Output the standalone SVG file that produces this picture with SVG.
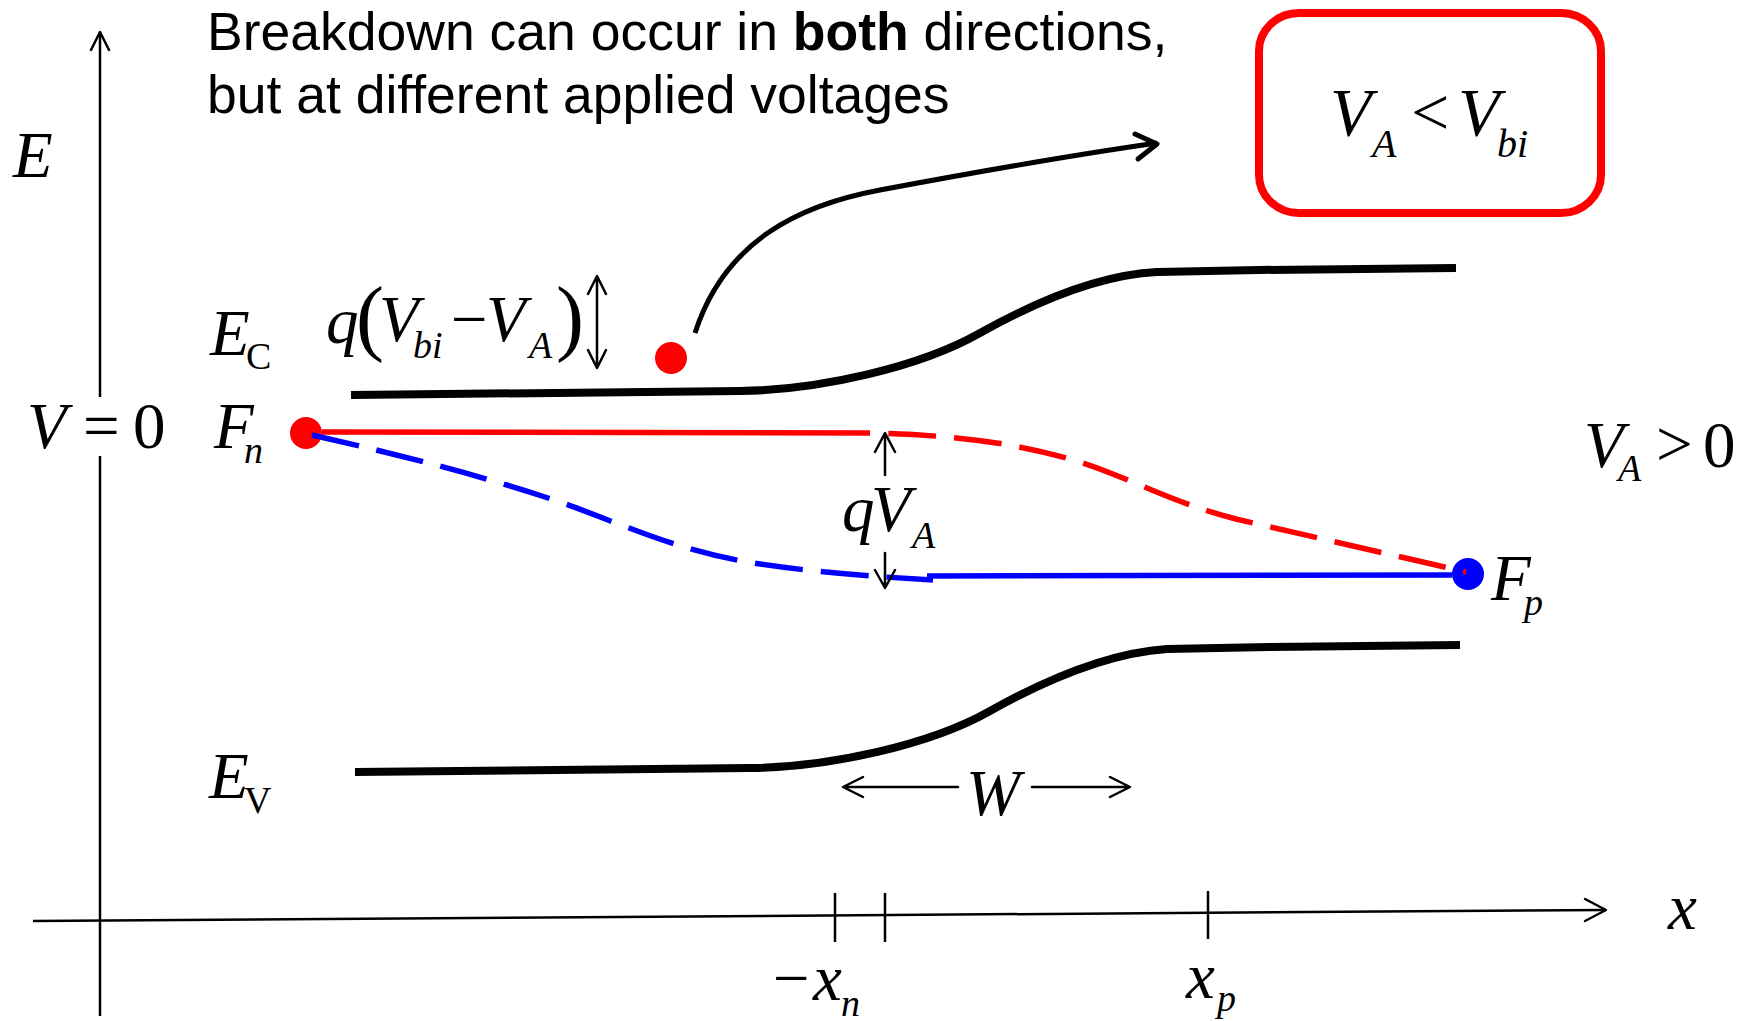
<svg xmlns="http://www.w3.org/2000/svg" width="1749" height="1021" viewBox="0 0 1749 1021">
<style>
.h{font-family:"Liberation Sans",Arial,sans-serif;font-size:53.5px;fill:#000}
.m{font-family:"Liberation Serif","Times New Roman",serif;font-size:65px;fill:#000}
.i{font-style:italic}
.s{font-size:38px}
.ax{stroke:#000;stroke-width:2.5;fill:none}
.band{stroke:#000;stroke-width:8;fill:none}
.red{stroke:#ff0000;stroke-width:5.5;fill:none}
.blue{stroke:#0000ff;stroke-width:5.5;fill:none}
.dash{stroke-dasharray:48 18}
.thin{stroke:#000;stroke-width:2.5;fill:none;stroke-linecap:round;stroke-linejoin:round}
</style>
<rect width="1749" height="1021" fill="#fff"/>

<g id="title">
<text class="h" x="207" y="50">Breakdown can occur in <tspan font-weight="bold">both</tspan> directions,</text>
<text class="h" x="207" y="113">but at different applied voltages</text>
</g>

<g id="condition-box">
<rect x="1259" y="13" width="342" height="200" rx="40" ry="38" fill="#fff" stroke="#ff0000" stroke-width="8"/>
<text class="m" style="font-size:68px"><tspan class="i" x="1330" y="135">V</tspan><tspan class="i" x="1372" y="157" style="font-size:40px">A</tspan><tspan x="1411" y="135">&lt;</tspan><tspan class="i" x="1458" y="135">V</tspan><tspan class="i" x="1497" y="157" style="font-size:40px">bi</tspan></text>
</g>

<g id="dots">
<circle id="dot-fn" cx="306" cy="433" r="16" fill="#ff0000"/>
<circle id="dot-electron" cx="671" cy="358" r="16" fill="#ff0000"/>
<circle id="dot-fp" cx="1468" cy="574" r="16" fill="#0000ff"/>
</g>

<g id="connectors">
<!-- E axis -->
<path class="ax" d="M100,32 V397 M100,456 V1016"/>
<polyline class="thin" points="91,50 100,32 109,50"/>
<!-- x axis -->
<path class="ax" d="M33,921 L1606,910"/>
<polyline class="thin" points="1585,899 1606,910 1585,921"/>
<path class="ax" d="M835,893 V942 M885,893 V942 M1208,891 V939"/>
<!-- bands -->
<path id="ec" class="band" d="M351,395 L740,391 C820,390 920,367 980,333 C1030,305 1097,275 1157,272 L1259,270 L1456,268"/>
<path id="ev" class="band" d="M355,772 L750,768 C830,767 930,745 990,711 C1040,683 1107,653 1167,649 L1269,647 L1460,645"/>
<!-- quasi Fermi levels -->
<path class="red" d="M322,432 L870,433"/>
<path class="red dash" stroke-dashoffset="48" d="M870,433 C960,435 1020,444 1080,462 C1130,478 1170,502 1236,519 L1466,572"/>
<path class="blue dash" d="M312,435 C400,455 480,475 560,502 C630,527 680,552 760,564 C820,573 880,577 933,580"/>
<path class="blue" d="M927,576 L1452,575"/>
<!-- breakdown arrow -->
<path d="M695,333 C725,240 800,205 880,190 C960,175 1080,154 1157,143" stroke="#000" stroke-width="5" fill="none"/>
<polyline points="1135,134 1157,144 1138,159" stroke="#000" stroke-width="5" fill="none" stroke-linecap="round" stroke-linejoin="round"/>
<!-- q(Vbi-VA) double arrow -->
<path class="thin" d="M597,277 V367 M588,294 L597,276 L606,294 M588,350 L597,368 L606,350"/>
<!-- qVA arrows -->
<path class="thin" d="M885,475 V434 M875,452 L885,433 L895,452 M885,553 V587 M875,570 L885,588 L895,570"/>
<!-- W arrows -->
<path class="thin" d="M958,787 H844 M863,777 L843,787 L863,797 M1032,787 H1129 M1110,777 L1130,787 L1110,797"/>
</g>

<g id="labels">
<text id="lbl-E" class="m i" x="13" y="177">E</text>
<text id="lbl-EC" class="m"><tspan class="i" x="210" y="355">E</tspan><tspan class="s" x="246" y="369">C</tspan></text>
<text id="lbl-qVbiVA" class="m"><tspan class="i" x="326" y="343">q</tspan><tspan x="356" y="345" style="font-size:84px">(</tspan><tspan class="i" x="379" y="341">V</tspan><tspan class="i s" x="413" y="358">bi</tspan><tspan x="451" y="341">−</tspan><tspan class="i" x="486" y="341">V</tspan><tspan class="i s" x="529" y="358">A</tspan><tspan x="556" y="345" style="font-size:84px">)</tspan></text>
<text id="lbl-V0" class="m"><tspan class="i" x="27" y="448">V</tspan><tspan x="83" y="448">=</tspan><tspan x="133" y="448">0</tspan></text>
<text id="lbl-Fn" class="m"><tspan class="i" x="214" y="448">F</tspan><tspan class="i s" x="244" y="463">n</tspan></text>
<text id="lbl-EV" class="m"><tspan class="i" x="209" y="798">E</tspan><tspan class="s" x="244" y="813">V</tspan></text>
<text id="lbl-qVA" class="m"><tspan class="i" x="842" y="531">q</tspan><tspan class="i" x="871" y="531">V</tspan><tspan class="i s" x="912" y="548">A</tspan></text>
<text id="lbl-VA0" class="m"><tspan class="i" x="1584" y="467">V</tspan><tspan class="i s" x="1618" y="481">A</tspan><tspan x="1656" y="466">&gt;</tspan><tspan x="1703" y="467">0</tspan></text>
<text id="lbl-Fp" class="m"><tspan class="i" x="1491" y="600">F</tspan><tspan class="i s" x="1524" y="615">p</tspan></text>
<text id="lbl-W" class="m i" x="966" y="815">W</text>
<text id="lbl-xn" class="m"><tspan x="773" y="1000">−</tspan><tspan class="i" x="813" y="1000">x</tspan><tspan class="i s" x="841" y="1016">n</tspan></text>
<text id="lbl-xp" class="m"><tspan class="i" x="1186" y="998">x</tspan><tspan class="i s" x="1217" y="1011">p</tspan></text>
<text id="lbl-x" class="m i" x="1668" y="929">x</text>
</g>
</svg>
